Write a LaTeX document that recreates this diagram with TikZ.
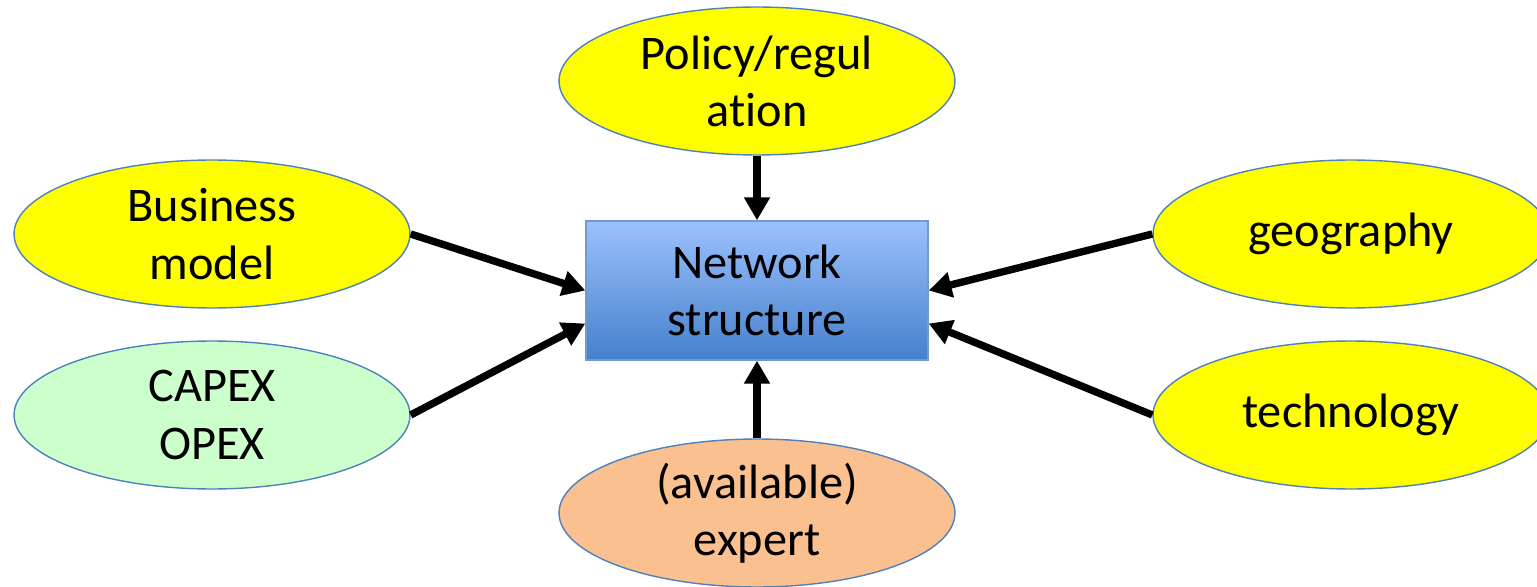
\documentclass[tikz,border=0pt]{standalone}
\usepackage{fontspec}
\setmainfont[Ligatures=NoCommon]{Carlito}
\usepackage{tikz}
\usetikzlibrary{arrows.meta}
\usetikzlibrary{calc}
\usetikzlibrary{shapes.geometric}

\definecolor{outline}{RGB}{79,129,189}
\definecolor{brightyellow}{RGB}{255,255,0}
\definecolor{lightgreen}{RGB}{204,255,204}
\definecolor{peach}{RGB}{250,192,144}
\definecolor{boxtop}{RGB}{155,193,252}
\definecolor{boxbottom}{RGB}{70,128,204}

\begin{document}
\begin{tikzpicture}
	[
	x=0.02cm, y=-0.02cm,
	> = {Triangle[length=13pt,width=14pt]},
	every node/.style = {font=\fontsize{27.5}{32.5}\selectfont, align=center},
	factor/.style = {ellipse, draw=outline, line width=0.8pt, inner sep=0pt, minimum width=7.92cm, minimum height=2.96cm},
	netbox/.style = {rectangle, draw=outline!80, line width=0.8pt, top color=boxtop, bottom color=boxbottom, minimum width=6.84cm, minimum height=2.78cm},
	influence/.style = {->, line width=4.2pt}
	]
	\useasboundingbox (0,0) rectangle (1537,587);

	\node[netbox] (net) at (757,290.5) {Network\\structure};

	\node[factor, fill=brightyellow] (policy) at (757,81) {Policy/regul\\ation};
	\node[factor, fill=brightyellow] (business) at (212,234) {Business\\model};
	\node[factor, fill=lightgreen] (cost) at (212,415) {CAPEX\\OPEX};
	\node[factor, fill=brightyellow] (geo) at (1351,234) {geography};
	\node[factor, fill=brightyellow] (tech) at (1351,415) {technology};
	\node[factor, fill=peach] (expert) at (757,513) {(available)\\expert};

	\draw[influence] (policy.south) -- (net.north);
	\draw[influence] (expert.north) -- (net.south);
	\draw[influence] (business.east) -- (net.west);
	\draw[influence] (cost.east) -- ($(net.west)+(0,33)$);
	\draw[influence] (geo.west) -- (net.east);
	\draw[influence] (tech.west) -- ($(net.east)+(0,33)$);
\end{tikzpicture}
\end{document}
